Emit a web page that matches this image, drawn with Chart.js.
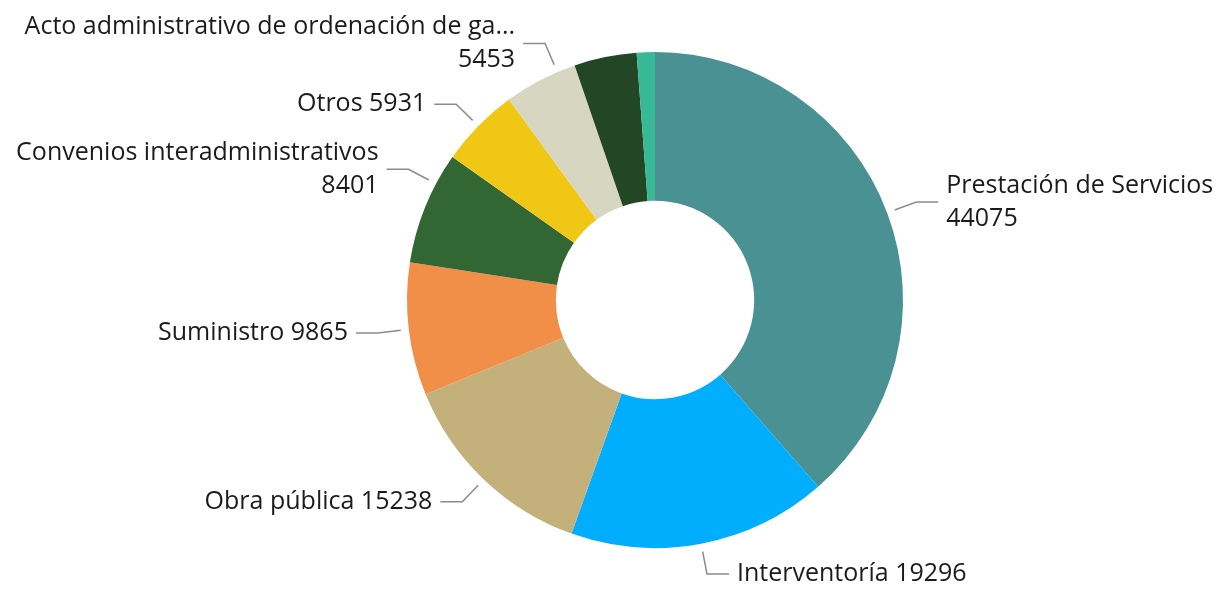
<!DOCTYPE html>
<html>
<head>
<meta charset="utf-8">
<script src="https://cdn.jsdelivr.net/npm/chart.js@4.4.0/dist/chart.umd.min.js"></script>
<style>
	html, body { margin: 0; padding: 0; background: #fff; }
	#wrap { width: 1219px; height: 591px; }
</style>
</head>
<body>
<div id="wrap"><canvas id="myChart"></canvas></div>
<script>
	const categorias = [
		"Prestación de Servicios",
		"Interventoría",
		"Obra pública",
		"Suministro",
		"Convenios interadministrativos",
		"Otros",
		"Acto administrativo de ordenación de gasto",
		"Compraventa",
		"Arrendamiento"
	];
	const valores = [44075, 19296, 15238, 9865, 8401, 5931, 5453, 4650, 1350];
	// the two smallest slices have no label in the picture
	const mostrarEtiqueta = [true, true, true, true, true, true, true, false, false];
	const colores = ['#4A9194', '#01AEFD', '#C4B07B', '#F18F49', '#326633', '#F1C716', '#D7D7C1', '#234624', '#37B897'];

	const fuente = "25px 'Open Sans'";

	function recortar(ctx, texto, maxW) {
		if (ctx.measureText(texto).width <= maxW) return texto;
		let t = texto;
		while (t.length > 1 && ctx.measureText(t + "...").width > maxW) {
			t = t.slice(0, -1);
		}
		return t.trimEnd() + "...";
	}

	const etiquetas = {
		id: 'etiquetas',
		afterDraw(chart) {
			const ctx = chart.ctx;
			const meta = chart.getDatasetMeta(0);
			const W = chart.width;
			ctx.save();
			ctx.font = fuente;
			ctx.textBaseline = 'middle';
			meta.data.forEach(function(arc, i) {
				if (!mostrarEtiqueta[i]) return;
				const r = arc.outerRadius;
				const cx = arc.x, cy = arc.y;
				const nombre = categorias[i];
				const valor = String(valores[i]);

				// where the label would go for a given angle
				function colocar(a) {
					const dx = Math.cos(a), dy = Math.sin(a);
					const derecha = dx >= 0;
					const x1 = cx + (r + 31) * dx, y1 = cy + (r + 31) * dy;
					const x2 = derecha ? x1 + 22 : x1 - 22;
					const tx = derecha ? x2 + 8 : x2 - 8;
					const maxW = derecha ? W - tx - 2 : tx - 16;
					let lineas, cabe;
					if (ctx.measureText(nombre + " " + valor).width <= maxW) {
						lineas = [nombre + " " + valor];
						cabe = true;
					} else {
						cabe = ctx.measureText(nombre).width <= maxW;
						lineas = [recortar(ctx, nombre, maxW), valor];
					}
					return { a, dx, dy, derecha, x1, y1, x2, tx, lineas, cabe };
				}

				// slide the label towards the vertical axis when the text does not fit
				const mid = (arc.startAngle + arc.endAngle) / 2;
				const span = arc.endAngle - arc.startAngle;
				const signo = (Math.cos(mid) < 0) === (Math.sin(mid) < 0) ? 1 : -1;
				let p = colocar(mid);
				for (let s = 1; s <= 50 && !p.cabe; s++) {
					p = colocar(mid + signo * 0.25 * span * s / 50);
				}

				ctx.strokeStyle = '#8c8c8c';
				ctx.lineWidth = 1.5;
				ctx.beginPath();
				ctx.moveTo(cx + (r + 8) * p.dx, cy + (r + 8) * p.dy);
				ctx.lineTo(p.x1, p.y1);
				ctx.lineTo(p.x2, p.y1);
				ctx.stroke();

				ctx.fillStyle = '#1b1b1b';
				ctx.textAlign = p.derecha ? 'left' : 'right';
				const lh = 33;
				const top = p.y1 - (p.lineas.length - 1) * lh / 2;
				p.lineas.forEach(function(l, k) {
					ctx.fillText(l, p.tx, top + k * lh);
				});
			});
			ctx.restore();
		}
	};

	const ctx = document.getElementById("myChart").getContext("2d");
	const myChart = new Chart(ctx, {
		type: 'doughnut',
		data: {
			labels: categorias,
			datasets: [{
				data: valores,
				backgroundColor: colores,
				borderWidth: 0
			}]
		},
		options: {
			responsive: true,
			maintainAspectRatio: false,
			animation: false,
			cutout: '40%',
			layout: {
				padding: { top: 52, bottom: 43, left: 407, right: 316 }
			},
			plugins: {
				legend: { display: false },
				tooltip: { enabled: false }
			}
		},
		plugins: [etiquetas]
	});
</script>
</body>
</html>
